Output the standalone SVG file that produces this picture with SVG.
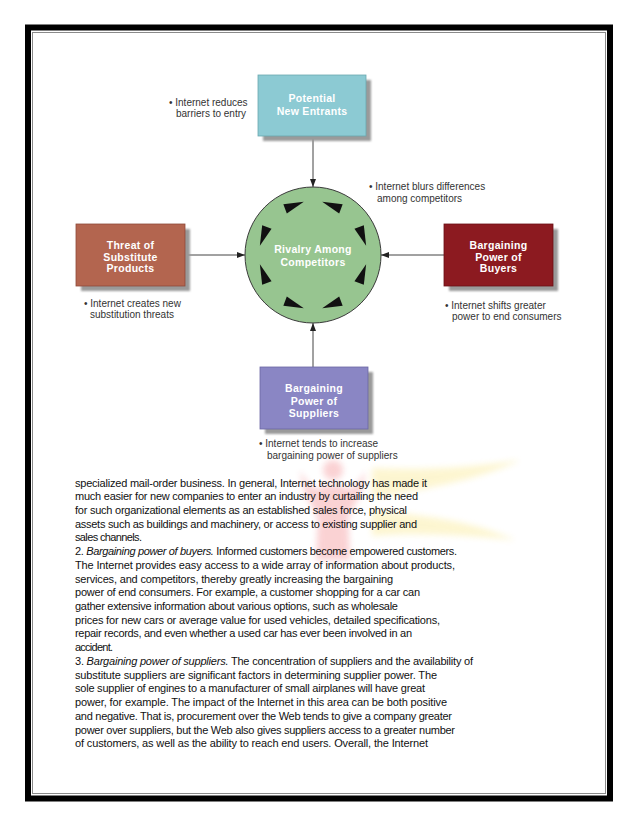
<svg xmlns="http://www.w3.org/2000/svg" xmlns:xlink="http://www.w3.org/1999/xlink" width="638" height="826" viewBox="0 0 638 826">
<style>
.box-title{font-family:"Liberation Sans",Arial,sans-serif;font-size:10.5px;font-weight:bold;fill:#ffffff;text-anchor:middle;letter-spacing:0.3px}
.label{font-family:"Liberation Sans",Arial,sans-serif;font-size:10px;fill:#333333}
.body{font-family:"Liberation Sans",Arial,sans-serif;font-size:11px;fill:#111111}
.conn{stroke:#444444;stroke-width:1;fill:none;marker-end:url(#arrow)}
.shadow{fill:#9a9a9a;filter:url(#blur)}
</style>
<defs>
<filter id="blur" x="-10%" y="-10%" width="120%" height="120%"><feGaussianBlur stdDeviation="1"/></filter>
<filter id="soft" x="-20%" y="-20%" width="140%" height="140%"><feGaussianBlur stdDeviation="3"/></filter>
<marker id="arrow" viewBox="0 0 8 6" refX="8" refY="3" markerWidth="8" markerHeight="6" markerUnits="userSpaceOnUse" orient="auto"><path d="M0,0 L8,3 L0,6 Z" fill="#222222"/></marker>
<path id="tri" d="M10,0 L-10,-5 L-10,5 Z" fill="#111111"/>
</defs>
<rect width="638" height="826" fill="#ffffff"/>
<!-- page frame -->
<rect x="28" y="27.5" width="582" height="771" fill="none" stroke="#000000" stroke-width="6"/>
<rect x="32.5" y="32.5" width="573" height="761" fill="none" stroke="#8a8a8a" stroke-width="1"/>
<!-- faint watermark -->
<g id="watermark" opacity="0.2" filter="url(#soft)">
<circle cx="333" cy="470" r="10" fill="#e8202a"/>
<path d="M300,470 C310,490 318,492 325,485 L341,485 C348,492 356,490 366,470 C362,500 352,505 348,520 L350,560 L316,560 L318,520 C314,505 304,500 300,470 Z" fill="#e8202a"/>
<path d="M372,468 C420,470 470,468 520,460 C480,480 420,490 372,498 Z" fill="#f5d21a"/>
<path d="M372,510 C420,515 470,520 515,540 C470,536 420,532 372,536 Z" fill="#f5d21a"/>
</g>
<!-- connectors -->
<g id="connectors">
<line class="conn" x1="313" y1="136" x2="313" y2="187"/>
<line class="conn" x1="185" y1="255" x2="245" y2="255"/>
<line class="conn" x1="444" y1="255" x2="381" y2="255"/>
<line class="conn" x1="313" y1="367" x2="313" y2="323"/>
</g>
<!-- nodes -->
<g id="rivalry">
<circle cx="313" cy="255" r="68" fill="#97c590" stroke="#3a3a3a" stroke-width="1"/>
<use xlink:href="#tri" transform="translate(313 255) rotate(20.5) translate(0 -53) scale(-1 1)"/>
<use xlink:href="#tri" transform="translate(313 255) rotate(69.5) translate(0 -53)"/>
<use xlink:href="#tri" transform="translate(313 255) rotate(110.5) translate(0 -53) scale(-1 1)"/>
<use xlink:href="#tri" transform="translate(313 255) rotate(159.5) translate(0 -53)"/>
<use xlink:href="#tri" transform="translate(313 255) rotate(200.5) translate(0 -53) scale(-1 1)"/>
<use xlink:href="#tri" transform="translate(313 255) rotate(249.5) translate(0 -53)"/>
<use xlink:href="#tri" transform="translate(313 255) rotate(290.5) translate(0 -53) scale(-1 1)"/>
<use xlink:href="#tri" transform="translate(313 255) rotate(339.5) translate(0 -53)"/>
<text class="box-title" x="313" y="253">Rivalry Among</text>
<text class="box-title" x="313" y="265.5">Competitors</text>
<text class="label"><tspan x="369" y="190">•  Internet blurs differences</tspan><tspan x="377" y="201.5">among competitors</tspan></text>
</g>
<g id="new-entrants">
<rect class="shadow" x="263" y="80" width="108" height="61"/>
<rect x="258" y="75" width="108" height="61" fill="#8ccad3" stroke="#6aa8b0" stroke-width="0.8"/>
<text class="box-title" x="312" y="102">Potential</text>
<text class="box-title" x="312" y="115">New Entrants</text>
<text class="label"><tspan x="169" y="105.5">•  Internet reduces</tspan><tspan x="176" y="117">barriers to entry</tspan></text>
</g>
<g id="substitutes">
<rect class="shadow" x="81" y="229" width="109" height="62"/>
<rect x="76" y="224" width="109" height="62" fill="#b3654f" stroke="#8e4a3a" stroke-width="0.8"/>
<text class="box-title" x="130.5" y="249">Threat of</text>
<text class="box-title" x="130.5" y="260.5">Substitute</text>
<text class="box-title" x="130.5" y="272">Products</text>
<text class="label"><tspan x="84" y="307">•  Internet creates new</tspan><tspan x="90" y="318">substitution threats</tspan></text>
</g>
<g id="buyers">
<rect class="shadow" x="449" y="229" width="109" height="62"/>
<rect x="444" y="224" width="109" height="62" fill="#8c1a20" stroke="#6a1015" stroke-width="0.8"/>
<text class="box-title" x="498.5" y="249">Bargaining</text>
<text class="box-title" x="498.5" y="260.5">Power of</text>
<text class="box-title" x="498.5" y="272">Buyers</text>
<text class="label"><tspan x="445" y="308.5">•  Internet shifts greater</tspan><tspan x="452" y="319.5">power to end consumers</tspan></text>
</g>
<g id="suppliers">
<rect class="shadow" x="265" y="372" width="108" height="62"/>
<rect x="260" y="367" width="108" height="62" fill="#8a86c4" stroke="#6a66a4" stroke-width="0.8"/>
<text class="box-title" x="314" y="392">Bargaining</text>
<text class="box-title" x="314" y="404.5">Power of</text>
<text class="box-title" x="314" y="417">Suppliers</text>
<text class="label"><tspan x="259" y="447">•  Internet tends to increase</tspan><tspan x="267" y="459">bargaining power of suppliers</tspan></text>
</g>
<!-- body text -->
<g id="body-text" class="body">
<text x="75" y="486.5" textLength="352" lengthAdjust="spacing">specialized mail-order business. In general, Internet technology has made it</text>
<text x="75" y="500.2" textLength="343" lengthAdjust="spacing">much easier for new companies to enter an industry by curtailing the need</text>
<text x="75" y="513.9" textLength="332" lengthAdjust="spacing">for such organizational elements as an established sales force, physical</text>
<text x="75" y="527.7" textLength="342" lengthAdjust="spacing">assets such as buildings and machinery, or access to existing supplier and</text>
<text x="75" y="541.4" textLength="67" lengthAdjust="spacing">sales channels.</text>
<text x="75" y="555.1" textLength="382" lengthAdjust="spacing">2. <tspan font-style="italic">Bargaining power of buyers.</tspan> Informed customers become empowered customers.</text>
<text x="75" y="568.8" textLength="380" lengthAdjust="spacing">The Internet provides easy access to a wide array of information about products,</text>
<text x="75" y="582.5" textLength="318" lengthAdjust="spacing">services, and competitors, thereby greatly increasing the bargaining</text>
<text x="75" y="596.3" textLength="345" lengthAdjust="spacing">power of end consumers. For example, a customer shopping for a car can</text>
<text x="75" y="610.0" textLength="323" lengthAdjust="spacing">gather extensive information about various options, such as wholesale</text>
<text x="75" y="623.7" textLength="365" lengthAdjust="spacing">prices for new cars or average value for used vehicles, detailed specifications,</text>
<text x="75" y="637.4" textLength="337" lengthAdjust="spacing">repair records, and even whether a used car has ever been involved in an</text>
<text x="75" y="651.1" textLength="38" lengthAdjust="spacing">accident.</text>
<text x="75" y="664.9" textLength="398" lengthAdjust="spacing">3. <tspan font-style="italic">Bargaining power of suppliers.</tspan> The concentration of suppliers and the availability of</text>
<text x="75" y="678.6" textLength="362" lengthAdjust="spacing">substitute suppliers are significant factors in determining supplier power. The</text>
<text x="75" y="692.3" textLength="350" lengthAdjust="spacing">sole supplier of engines to a manufacturer of small airplanes will have great</text>
<text x="75" y="706.0" textLength="372" lengthAdjust="spacing">power, for example. The impact of the Internet in this area can be both positive</text>
<text x="75" y="719.7" textLength="377" lengthAdjust="spacing">and negative. That is, procurement over the Web tends to give a company greater</text>
<text x="75" y="733.5" textLength="380" lengthAdjust="spacing">power over suppliers, but the Web also gives suppliers access to a greater number</text>
<text x="75" y="747.2" textLength="353" lengthAdjust="spacing">of customers, as well as the ability to reach end users. Overall, the Internet</text>
</g>
</svg>
